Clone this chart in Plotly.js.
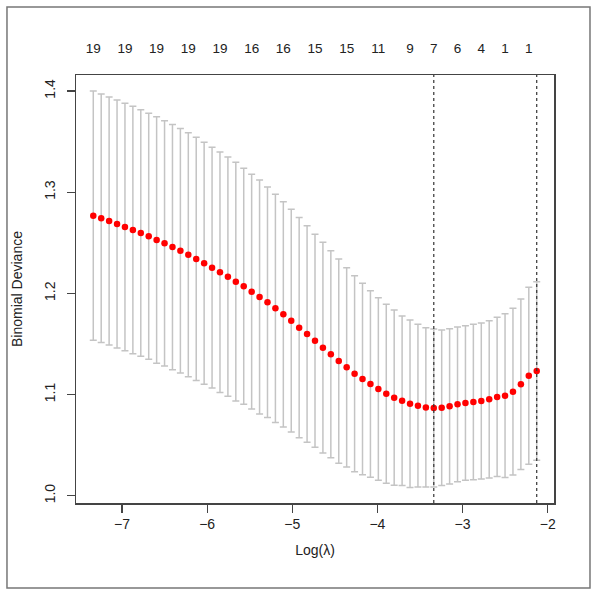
<!DOCTYPE html>
<html>
<head>
<meta charset="utf-8">
<script src="https://cdn.plot.ly/plotly-3.0.1.min.js"></script>
<style>html,body{margin:0;padding:0;background:#fff;}#chart{width:600px;height:597px;}</style>
</head>
<body>
<div id="chart"></div>
<script>
// log(lambda) for each fitted lambda
const logLambda = [-7.337,-7.244,-7.151,-7.058,-6.965,-6.872,-6.779,-6.686,-6.593,-6.500,
  -6.407,-6.314,-6.221,-6.128,-6.035,-5.942,-5.849,-5.756,-5.663,-5.570,
  -5.477,-5.384,-5.291,-5.198,-5.105,-5.012,-4.919,-4.826,-4.733,-4.640,
  -4.547,-4.454,-4.361,-4.268,-4.175,-4.082,-3.989,-3.896,-3.803,-3.710,
  -3.617,-3.524,-3.431,-3.338,-3.245,-3.152,-3.059,-2.966,-2.873,-2.780,
  -2.687,-2.594,-2.501,-2.408,-2.315,-2.222,-2.129];
// mean cross-validated binomial deviance
const cvm = [1.2768,1.2742,1.2715,1.2685,1.2656,1.2626,1.2597,1.2564,1.2527,1.2494,
  1.2458,1.2422,1.2382,1.2340,1.2297,1.2254,1.2208,1.2165,1.2115,1.2070,
  1.2016,1.1964,1.1911,1.1852,1.1793,1.1730,1.1661,1.1598,1.1532,1.1463,
  1.1397,1.1331,1.1269,1.1206,1.1153,1.1104,1.1055,1.1008,1.0969,1.0939,
  1.0909,1.0890,1.0873,1.0867,1.0870,1.0884,1.0903,1.0916,1.0926,1.0936,
  1.0953,1.0976,1.0989,1.1028,1.1101,1.1186,1.1233];
// standard error (half-length of error bars)
const cvsd = [0.1232,0.1228,0.1225,0.1225,0.1224,0.1224,0.1218,0.1216,0.1219,0.1213,
  0.1212,0.1208,0.1206,0.1202,0.1196,0.1189,0.1189,0.1183,0.1180,0.1166,
  0.1160,0.1156,0.1139,0.1128,0.1113,0.1100,0.1089,0.1069,0.1052,0.1042,
  0.1023,0.1009,0.0985,0.0969,0.0946,0.0922,0.0902,0.0884,0.0866,0.0837,
  0.0828,0.0804,0.0788,0.0781,0.0768,0.0767,0.0764,0.0764,0.0768,0.0771,
  0.0777,0.0787,0.0810,0.0824,0.0843,0.0874,0.0882];
// number of nonzero coefficients shown along the top
const nzIndex  = [0,4,8,12,16,20,24,28,32,36,40,43,46,49,52,55];
const nzLabels = ["19","19","19","19","19","16","16","15","15","11","9","7","6","4","1","1"];
const xTicks = [-7,-6,-5,-4,-3,-2];
const yTicks = [1.0,1.1,1.2,1.3,1.4];

// lambda.min and lambda.1se
let iMin = 0;
for (let i = 1; i < cvm.length; i++) if (cvm[i] < cvm[iMin]) iMin = i;
const thr = cvm[iMin] + cvsd[iMin];
let i1se = iMin;
for (let i = 0; i < cvm.length; i++) if (cvm[i] <= thr && logLambda[i] > logLambda[i1se]) i1se = i;

const font = "Liberation Sans, Arial, Helvetica, sans-serif";
const xr = [-7.54, -1.926];

const traces = [
  {
    x: logLambda, y: cvm, type: "scatter", mode: "markers",
    marker: {color: "#ff0000", size: 6.5},
    error_y: {type: "data", array: cvsd, symmetric: true, color: "#c4c4c4", thickness: 1.5, width: 3.5},
    hoverinfo: "x+y", showlegend: false
  },
  {
    x: nzIndex.map(i => logLambda[i]), y: nzIndex.map(i => cvm[i]),
    xaxis: "x2", type: "scatter", mode: "markers", marker: {opacity: 0},
    hoverinfo: "skip", showlegend: false
  }
];

const layout = {
  width: 600, height: 597,
  margin: {l: 76, r: 46, t: 75, b: 94, pad: 0},
  paper_bgcolor: "#ffffff", plot_bgcolor: "#ffffff",
  font: {family: font, size: 13, color: "#222"},
  showlegend: false,
  xaxis: {
    range: xr, tickvals: xTicks, ticktext: xTicks.map(v => "\u2212" + Math.abs(v)),
    ticks: "outside", ticklen: 8, tickwidth: 1.2, tickcolor: "#444",
    showline: true, linecolor: "#444", linewidth: 1.5, mirror: true,
    showgrid: false, zeroline: false,
    tickfont: {family: font, size: 14, color: "#222"},
    title: {text: "Log(\u03bb)", font: {family: font, size: 14, color: "#222"}, standoff: 14}
  },
  xaxis2: {
    range: xr, overlaying: "x", side: "top", anchor: "y",
    tickvals: nzIndex.map(i => logLambda[i]), ticktext: nzLabels,
    ticks: "", showline: false, showgrid: false, zeroline: false,
    ticklabelstandoff: 18,
    tickfont: {family: font, size: 13.5, color: "#222"}
  },
  yaxis: {
    range: [0.9928, 1.4158], tickvals: yTicks, ticktext: yTicks.map(v => v.toFixed(1)),
    tickangle: -90, ticklabelstandoff: 6,
    ticks: "outside", ticklen: 8, tickwidth: 1.2, tickcolor: "#444",
    showline: true, linecolor: "#444", linewidth: 1.5, mirror: true,
    showgrid: false, zeroline: false,
    tickfont: {family: font, size: 14, color: "#222"},
    title: {text: "Binomial Deviance", font: {family: font, size: 14, color: "#222"}, standoff: 16}
  },
  shapes: [
    {type: "line", xref: "x", yref: "paper", x0: logLambda[iMin], x1: logLambda[iMin], y0: 0, y1: 1,
     line: {color: "#333", width: 1.2, dash: "3px,3px"}},
    {type: "line", xref: "x", yref: "paper", x0: logLambda[i1se], x1: logLambda[i1se], y0: 0, y1: 1,
     line: {color: "#333", width: 1.2, dash: "3px,3px"}},
    {type: "rect", xref: "paper", yref: "paper", x0: -0.1444, x1: 1.0753, y0: -0.1986, y1: 1.1589,
     line: {color: "#777", width: 1.5}, fillcolor: "rgba(0,0,0,0)", layer: "below"}
  ]
};

Plotly.newPlot("chart", traces, layout, {displayModeBar: false, staticPlot: true});
</script>
</body>
</html>
